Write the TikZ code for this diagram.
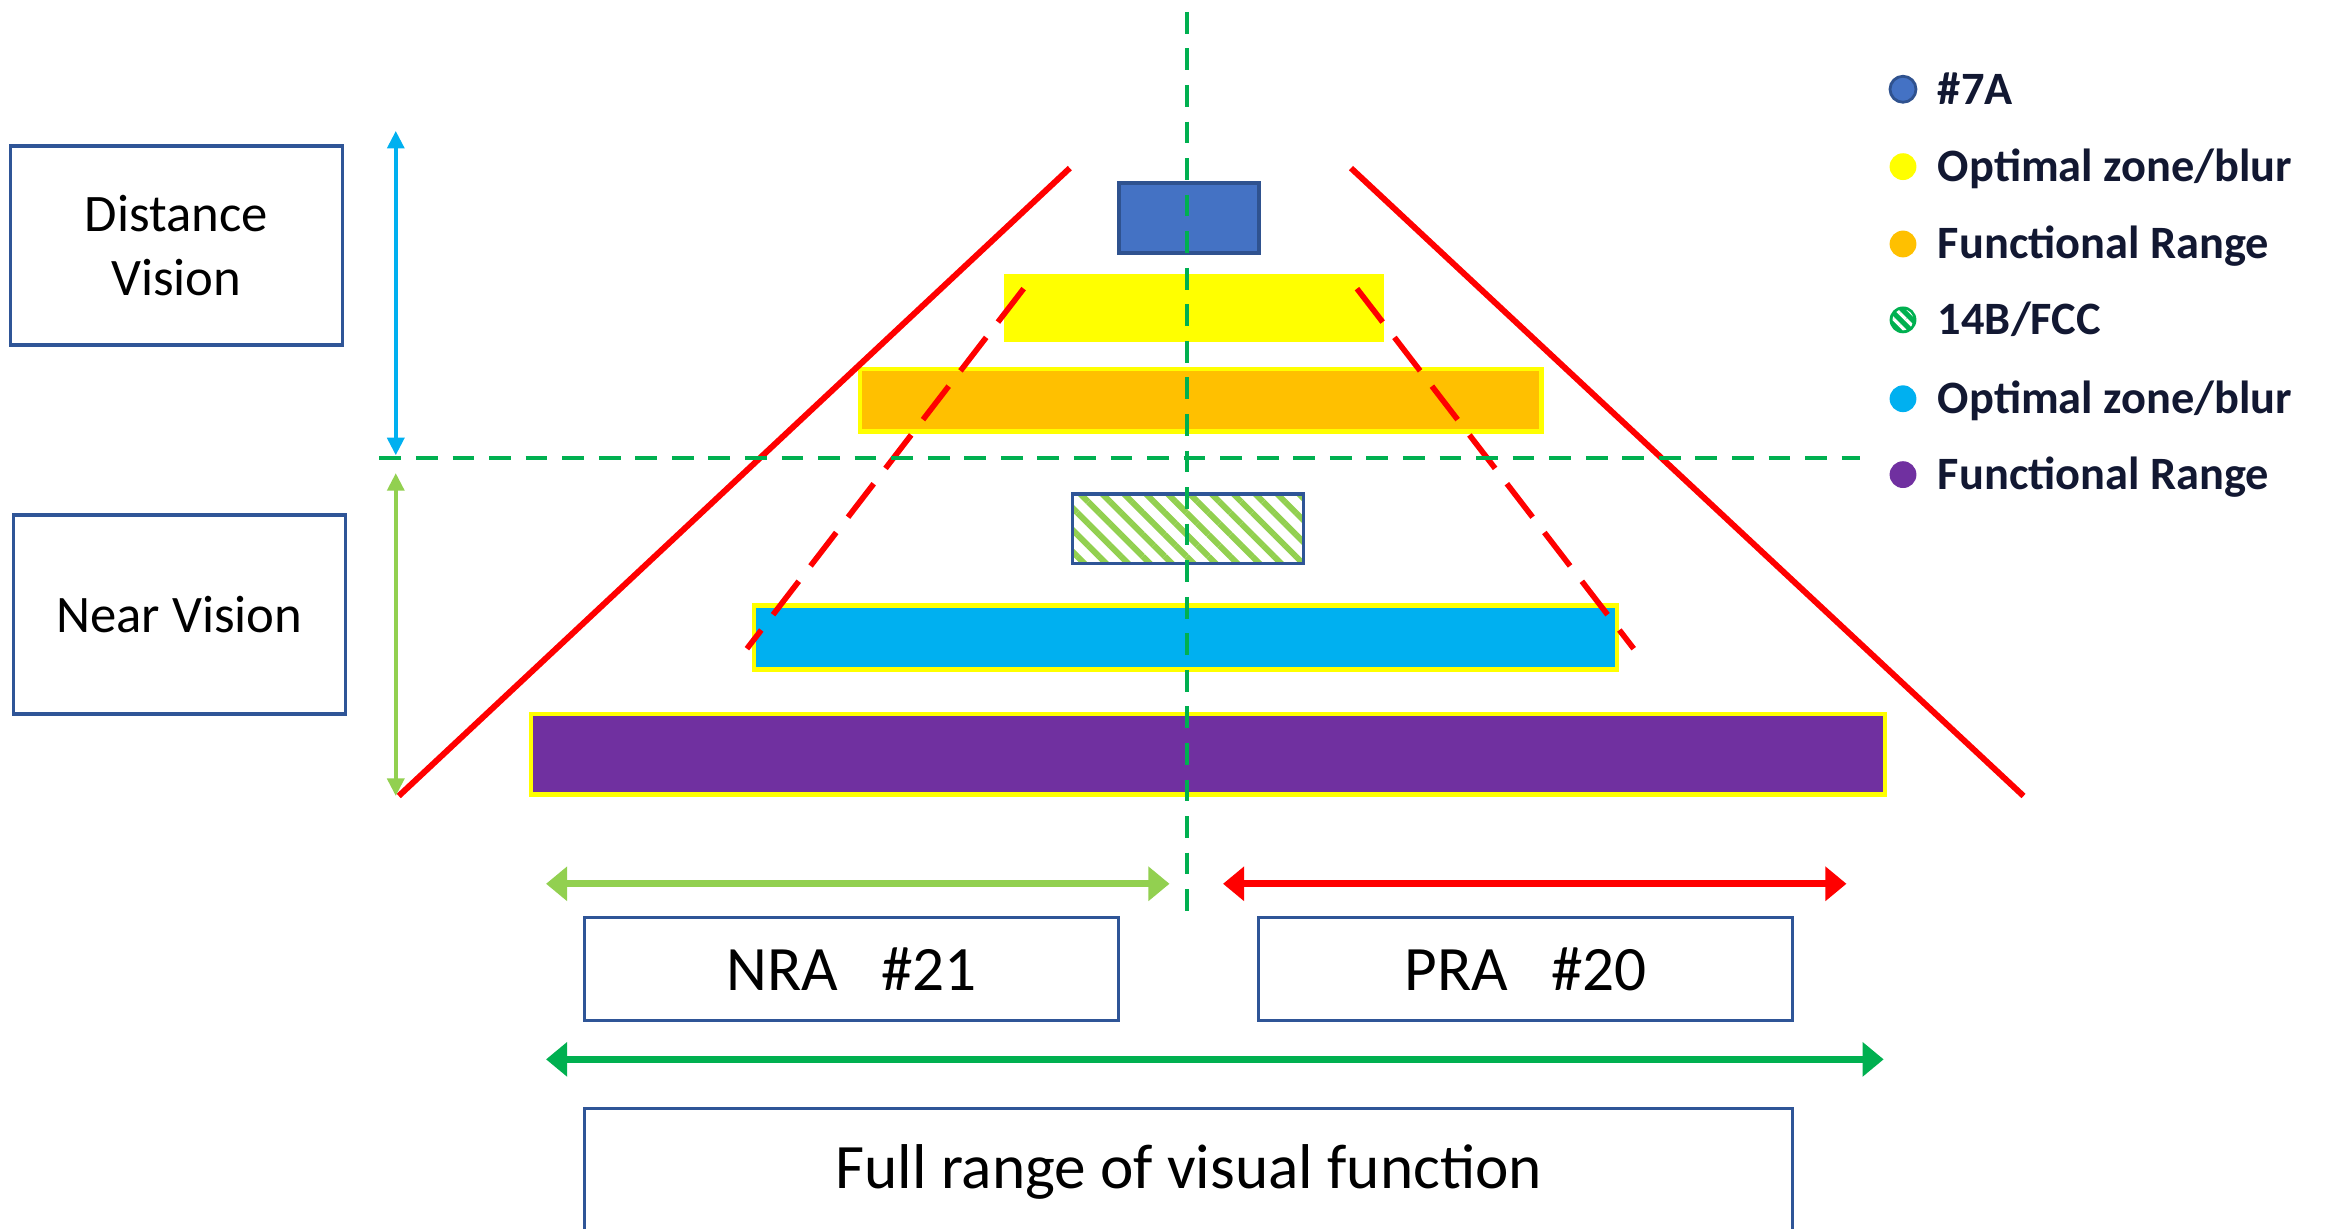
\documentclass[tikz,border=0pt]{standalone}
\usepackage{fontspec}
\setmainfont{Carlito}
\usetikzlibrary{arrows.meta,patterns.meta}
\definecolor{boxblue}{RGB}{47,85,151}
\definecolor{axisgreen}{RGB}{0,176,80}
\definecolor{lightgreen}{RGB}{146,208,80}
\definecolor{skyblue}{RGB}{0,176,240}
\definecolor{barblue}{RGB}{68,114,196}
\definecolor{barblueedge}{RGB}{47,82,143}
\definecolor{baryellow}{RGB}{255,255,0}
\definecolor{barorange}{RGB}{255,192,0}
\definecolor{barpurple}{RGB}{112,48,160}
\definecolor{legendnavy}{RGB}{18,24,50}
\tikzset{
  visionbox/.style={draw=boxblue, line width=0.9pt, align=center, minimum width=3.32cm, minimum height=1.99cm, font=\fontsize{15}{18}\selectfont},
  rangebox/.style={draw=boxblue, line width=0.9pt, minimum height=1.03cm, font=\fontsize{18}{22}\selectfont},
  bar/.style={draw=baryellow, line width=1.2pt},
  axisline/.style={axisgreen, line width=1.2pt, dash pattern=on 6.2pt off 4.2pt},
  rangeline/.style={red, line width=1.7pt},
  thinarrow/.style={line width=1.1pt, {Triangle[length=5pt,width=4.8pt]}-{Triangle[length=5pt,width=4.8pt]}},
  widearrow/.style={line width=2.1pt, {Triangle[length=6pt,width=9.5pt]}-{Triangle[length=6pt,width=9.5pt]}},
  legendtext/.style={anchor=base west, inner sep=0pt, text=legendnavy, font=\fontsize{13.2}{16}\selectfont\bfseries}
}
\begin{document}
\begin{tikzpicture}[x=0.01488cm,y=-0.01488cm]
\useasboundingbox (0,0) rectangle (1568,826);
\filldraw[fill=barblue, draw=barblueedge, line width=1pt] (752,123) rectangle (846,170);
\fill[baryellow] (675,184) rectangle (930,230);
\filldraw[bar, fill=barorange] (578,248) rectangle (1036,290);
\draw[draw=boxblue, line width=0.9pt, pattern={Lines[angle=-45,distance=4.4pt,line width=1.7pt]}, pattern color=lightgreen] (721,332) rectangle (876,379);
\filldraw[bar, fill=skyblue] (507,407) rectangle (1087,450);
\filldraw[bar, fill=barpurple] (357,480) rectangle (1267,534);
\draw[rangeline] (268,535) -- (719,113);
\draw[rangeline] (908,113) -- (1360,535);
\draw[rangeline, line width=1.6pt, dash pattern=on 12pt off 5.5pt] (688,194) -- (502,436);
\draw[rangeline, line width=1.6pt, dash pattern=on 12pt off 5.5pt] (912,194) -- (1098,436);
\draw[axisline] (798,8) -- (798,615);
\draw[axisline] (255,308) -- (1250,308);
\node[visionbox] (distance) at (118.5,165) {Distance\\Vision};
\node[visionbox] (near) at (120.5,413) {Near Vision};
\node[rangebox, minimum width=5.34cm] (nra) at (572.5,651.5) {NRA\ \ \ \#21};
\node[rangebox, minimum width=5.34cm] (pra) at (1025.5,651.5) {PRA\ \ \ \#20};
\node[rangebox, minimum width=12.08cm, minimum height=1.26cm] (full) at (799,787.5) {Full range of visual function};
\coordinate (distancetop) at (266,88);
\coordinate (distancebottom) at (266,306);
\coordinate (neartop) at (266,318);
\coordinate (nearbottom) at (266,535);
\draw[thinarrow, skyblue] (distancetop) -- (distancebottom);
\draw[thinarrow, lightgreen] (neartop) -- (nearbottom);
\coordinate (nraleft) at (367,594);
\coordinate (nraright) at (786,594);
\coordinate (praleft) at (822,594);
\coordinate (praright) at (1241,594);
\coordinate (fullleft) at (367,712);
\coordinate (fullright) at (1266,712);
\draw[widearrow, lightgreen] (nraleft) -- (nraright);
\draw[widearrow, red] (praleft) -- (praright);
\draw[widearrow, axisgreen] (fullleft) -- (fullright);
\foreach \y/\c in {112/baryellow,164/barorange,268/skyblue,319/barpurple}
  \fill[\c] (1279,\y) circle[radius=0.134cm];
\filldraw[fill=barblue, draw=barblueedge, line width=0.8pt] (1279,60) circle[radius=0.13cm];
\fill[axisgreen] (1279,215) circle[radius=0.134cm];
\path[pattern={Lines[angle=-45,distance=2.4pt,line width=0.9pt]}, pattern color=white] (1279,215) circle[radius=0.105cm];
\foreach \y/\t [count=\i] in {60/{\#7A},112/{Optimal zone/blur},164/{Functional Range},215/{14B/FCC},268/{Optimal zone/blur},319/{Functional Range}}
  \node[legendtext] (legend\i) at (1302,\y+10) {\t};
\end{tikzpicture}
\end{document}
